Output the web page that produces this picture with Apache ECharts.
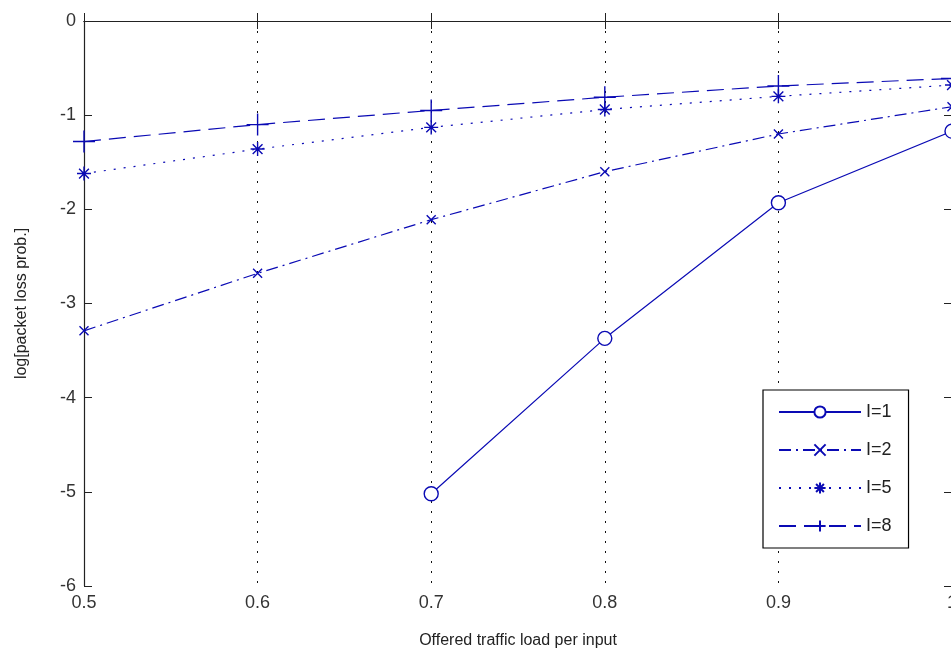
<!DOCTYPE html>
<html>
<head>
<meta charset="utf-8">
<script src="https://cdn.jsdelivr.net/npm/echarts@6/dist/echarts.min.js"></script>
<style>
  html, body { margin: 0; padding: 0; background: #fff; }
  #chart { width: 951px; height: 660px; }
</style>
</head>
<body>
<div id="chart"></div>
<script>
// ---- data ----
const loads = [0.5, 0.6, 0.7, 0.8, 0.9, 1.0];
const seriesNames = ['I=1', 'I=2', 'I=5', 'I=8'];
const lossI1 = [null, null, -5.02, -3.37, -1.93, -1.17];
const lossI2 = [-3.29, -2.68, -2.11, -1.60, -1.20, -0.91];
const lossI5 = [-1.62, -1.36, -1.13, -0.94, -0.80, -0.68];
const lossI8 = [-1.28, -1.10, -0.95, -0.81, -0.69, -0.61];
const xTicks = [0.5, 0.6, 0.7, 0.8, 0.9, 1];
const yTicks = [0, -1, -2, -3, -4, -5, -6];

const BLUE = '#0a0ab4';
const FONT = "'Liberation Sans', Arial, sans-serif";

function pairs(vals) {
  return loads.map((x, i) => [x, vals[i]]).filter(p => p[1] !== null);
}

const plusPath = 'path://M0,10L20,10M10,0L10,20';
const xPath = 'path://M0,0L20,20M20,0L0,20';
const starPath = 'path://M0,10L20,10M10,0L10,20M3,3L17,17M17,3L3,17';

function mkSeries(name, vals, dash, symbol, size, strokeSym) {
  return {
    name: name,
    type: 'line',
    data: pairs(vals),
    symbol: symbol,
    symbolSize: size,
    showAllSymbol: true,
    lineStyle: { color: BLUE, width: 1.2, type: dash },
    itemStyle: strokeSym
      ? { color: 'none', borderColor: BLUE, borderWidth: 1.4 }
      : { color: '#fff', borderColor: BLUE, borderWidth: 1.4 },
    emphasis: { disabled: true },
    animation: false,
    clip: false,
    z: 3
  };
}

const chart = echarts.init(document.getElementById('chart'), null, { renderer: 'canvas' });
chart.setOption({
  backgroundColor: '#fff',
  animation: false,
  textStyle: { fontFamily: FONT },
  grid: { left: 84, top: 21, width: 868, height: 565, containLabel: false, outerBoundsMode: 'none' },
  legend: {
    orient: 'vertical',
    left: 763,
    top: 390,
    itemWidth: 82,
    itemHeight: 14,
    itemGap: 20,
    padding: [13, 17, 13, 15],
    borderColor: '#000',
    borderWidth: 1.2,
    backgroundColor: '#fff',
    selectedMode: false,
    textStyle: { fontFamily: FONT, fontSize: 18, color: '#222', padding: [0, 0, 0, 0] },
    data: seriesNames
  },
  xAxis: [{
    type: 'value',
    min: xTicks[0],
    max: xTicks[xTicks.length - 1],
    interval: 0.1,
    name: 'Offered traffic load per input',
    nameLocation: 'middle',
    nameGap: 47,
    nameTextStyle: { fontFamily: FONT, fontSize: 16, color: '#222' },
    axisLine: { lineStyle: { color: '#222', width: 1.2 } },
    axisTick: { inside: true, length: 8, lineStyle: { color: '#222' } },
    axisLabel: { margin: 8, fontSize: 18, color: '#333', fontFamily: FONT,
      formatter: v => String(Math.round(v * 10) / 10) },
    splitLine: { show: true, lineStyle: { color: '#111', type: [2, 8], width: 1 } }
  }, {
    type: 'value',
    position: 'top',
    min: xTicks[0],
    max: xTicks[xTicks.length - 1],
    interval: 0.1,
    axisLine: { show: true, onZero: false, lineStyle: { color: '#222', width: 1.2 } },
    axisTick: { show: true, inside: true, length: 8, lineStyle: { color: '#222' } },
    axisLabel: { show: false },
    splitLine: { show: false }
  }],
  yAxis: [{
    type: 'value',
    min: yTicks[yTicks.length - 1],
    max: yTicks[0],
    interval: 1,
    name: 'log[packet loss prob.]',
    nameLocation: 'middle',
    nameGap: 54,
    nameRotate: 90,
    nameTextStyle: { fontFamily: FONT, fontSize: 16, color: '#222' },
    axisLine: { show: true, onZero: false, lineStyle: { color: '#222', width: 1.2 } },
    axisTick: { show: true, inside: true, length: 8, lineStyle: { color: '#222' } },
    axisLabel: { margin: 8, fontSize: 18, color: '#333', fontFamily: FONT },
    splitLine: { show: false }
  }, {
    type: 'value',
    position: 'right',
    min: yTicks[yTicks.length - 1],
    max: yTicks[0],
    interval: 1,
    axisLine: { show: true, onZero: false, lineStyle: { color: '#222', width: 1.2 } },
    axisTick: { show: true, inside: true, length: 8, lineStyle: { color: '#222' } },
    axisLabel: { show: false },
    splitLine: { show: false }
  }],
  series: [
    mkSeries(seriesNames[0], lossI1, 'solid', 'circle', 14, false),
    mkSeries(seriesNames[1], lossI2, [12, 5, 2, 5], xPath, 9, true),
    mkSeries(seriesNames[2], lossI5, [2, 8], starPath, 14, true),
    mkSeries(seriesNames[3], lossI8, [17, 8], plusPath, 22, true)
  ]
});
</script>
</body>
</html>
